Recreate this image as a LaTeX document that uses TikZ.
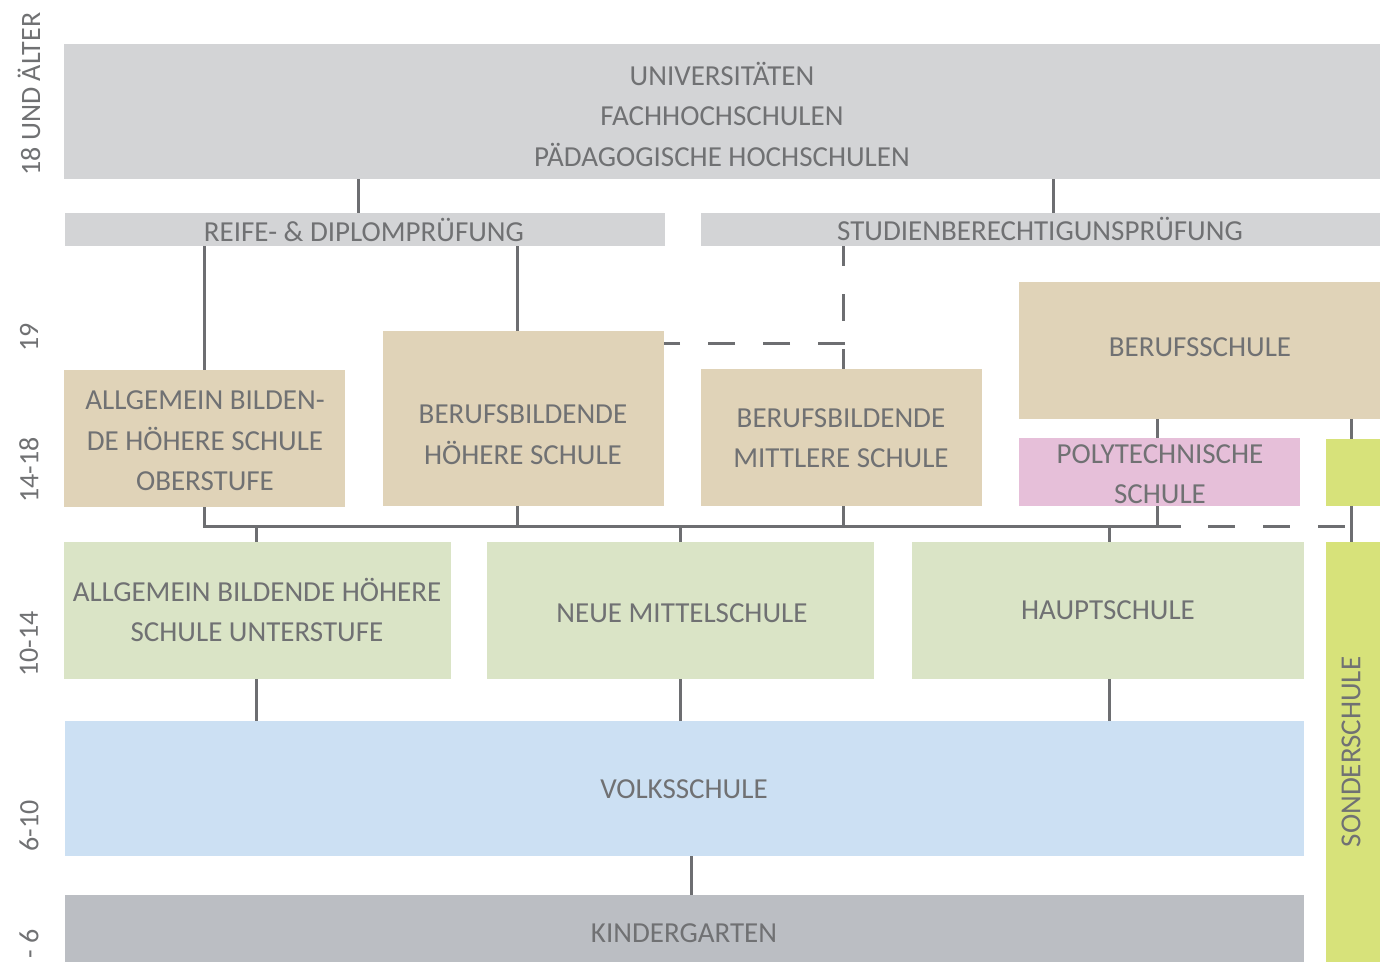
\documentclass[tikz,border=0pt]{standalone}
\usepackage{fontspec}
\setmainfont{Carlito}
\definecolor{cgray}{HTML}{D3D4D6}
\definecolor{ctan}{HTML}{E0D3B8}
\definecolor{cgreen}{HTML}{DAE4C6}
\definecolor{cblue}{HTML}{CCE0F3}
\definecolor{ckg}{HTML}{BBBEC3}
\definecolor{cpink}{HTML}{E6BFD9}
\definecolor{clime}{HTML}{D7E27A}
\definecolor{cline}{HTML}{6D6E71}
\definecolor{ctext}{HTML}{707173}
\begin{document}
\begin{tikzpicture}[x=1pt,y=-1pt,
  box/.style={inner sep=0pt, outer sep=0pt, anchor=north west, align=center, text=ctext,
    font=\fontsize{29}{40.5}\selectfont},
  txt/.style={inner sep=0pt, align=center, text=ctext, font=\fontsize{29}{40.5}\selectfont},
  age/.style={inner sep=0pt, rotate=90, text=ctext, font=\fontsize{28}{34}\selectfont},
  conn/.style={draw=cline, line width=3pt},
  dconn/.style={draw=cline, line width=3pt, dash pattern=on 27pt off 28pt}]
\useasboundingbox (0,0) rectangle (1387,962);

% boxes
\node[box, fill=cgray, minimum width=1316pt, minimum height=135pt] (uni) at (64,44) {};
\node[txt] (unit) at (722,114) {UNIVERSITÄTEN\\FACHHOCHSCHULEN\\PÄDAGOGISCHE HOCHSCHULEN};
\node[box, fill=cgray, minimum width=600pt, minimum height=33pt] (reife) at (65,213) {};
\node[txt] (reifet) at (364,230) {REIFE- \& DIPLOMPRÜFUNG};
\node[box, fill=cgray, minimum width=679pt, minimum height=33pt] (stud) at (701,213) {};
\node[txt] (studt) at (1040,229) {STUDIENBERECHTIGUNSPRÜFUNG};

\node[box, fill=ctan, minimum width=281pt, minimum height=137pt] (ahso) at (64,370) {};
\node[txt] (ahsot) at (205,441) {ALLGEMEIN BILDEN-\\DE HÖHERE SCHULE\\OBERSTUFE};
\node[box, fill=ctan, minimum width=281pt, minimum height=175pt] (bhs) at (383,331) {};
\node[txt] (bhst) at (523,434.5) {BERUFSBILDENDE\\HÖHERE SCHULE};
\node[box, fill=ctan, minimum width=281pt, minimum height=137pt] (bms) at (701,369) {};
\node[txt] (bmst) at (841,438) {BERUFSBILDENDE\\MITTLERE SCHULE};
\node[box, fill=ctan, minimum width=361pt, minimum height=137pt] (bs) at (1019,282) {};
\node[txt] (bst) at (1200,347) {BERUFSSCHULE};
\node[box, fill=cpink, minimum width=281pt, minimum height=68pt] (poly) at (1019,438) {};
\node[txt] (polyt) at (1160,474) {POLYTECHNISCHE\\SCHULE};
\node[box, fill=clime, minimum width=54pt, minimum height=67pt] (sond1) at (1326,439) {};

\node[box, fill=cgreen, minimum width=387pt, minimum height=137pt] (ahsu) at (64,542) {};
\node[txt] (ahsut) at (257,610) {ALLGEMEIN BILDENDE HÖHERE\\SCHULE UNTERSTUFE};
\node[box, fill=cgreen, minimum width=387pt, minimum height=137pt] (nms) at (487,542) {};
\node[txt] (nmst) at (682,613) {NEUE MITTELSCHULE};
\node[box, fill=cgreen, minimum width=392pt, minimum height=137pt] (hs) at (912,542) {};
\node[txt] (hst) at (1108,610) {HAUPTSCHULE};
\node[box, fill=clime, minimum width=54pt, minimum height=420pt] (sond2) at (1326,542) {};
\node[txt, rotate=90] (sondt) at (1351,752) {SONDERSCHULE};

\node[box, fill=cblue, minimum width=1239pt, minimum height=135pt] (vs) at (65,721) {};
\node[txt] (vst) at (684,789) {VOLKSSCHULE};
\node[box, fill=ckg, minimum width=1239pt, minimum height=67pt] (kg) at (65,895) {};
\node[txt] (kgt) at (684,933) {KINDERGARTEN};

% age labels
\node[age] (a1) at (29,94) {18 UND ÄLTER};
\node[age] (a2) at (29,337) {19};
\node[age] (a3) at (29,470) {14-18};
\node[age] (a4) at (29,644) {10-14};
\node[age] (a5) at (29,826) {6-10};
\node[age] (a6) at (29,944) {- 6};

% connectors
\draw[conn] (uni.south -| 358,0) -- (reife.north -| 358,0);
\draw[conn] (uni.south -| 1053,0) -- (stud.north -| 1053,0);
\draw[conn] (reife.south -| 204,0) -- (ahso.north -| 204,0);
\draw[conn] (reife.south -| 517,0) -- (bhs.north -| 517,0);
\draw[dconn, dash phase=7pt] (stud.south -| 843,0) -- (bms.north -| 843,0);
\coordinate (dj) at (845,343);
\draw[dconn] (dj) -- (dj -| bhs.east);

\coordinate (busL) at (204,526);
\coordinate (busR) at (1181,526);
\coordinate (busE) at (1351,526);
\draw[conn] (ahso.south -| busL) -- (busL) -- (busR);
\draw[conn] (bhs.south -| 517,0) -- (517,526);
\draw[conn] (bms.south -| 843,0) -- (843,526);
\draw[conn] (bs.south -| 1157,0) -- (poly.north -| 1157,0);
\draw[conn] (poly.south -| 1157,0) -- (1157,526);
\draw[dconn, dash phase=28pt] (busR) -- (busE);
\draw[conn] (bs.south -| 1351,0) -- (sond1.north -| 1351,0);
\draw[conn] (sond1.south -| 1351,0) -- (sond2.north -| 1351,0);

\draw[conn] (256,526) -- (ahsu.north -| 256,0);
\draw[conn] (680,526) -- (nms.north -| 680,0);
\draw[conn] (1109,526) -- (hs.north -| 1109,0);
\draw[conn] (ahsu.south -| 256,0) -- (vs.north -| 256,0);
\draw[conn] (nms.south -| 680,0) -- (vs.north -| 680,0);
\draw[conn] (hs.south -| 1109,0) -- (vs.north -| 1109,0);
\draw[conn] (vs.south -| 691,0) -- (kg.north -| 691,0);
\end{tikzpicture}
\end{document}
